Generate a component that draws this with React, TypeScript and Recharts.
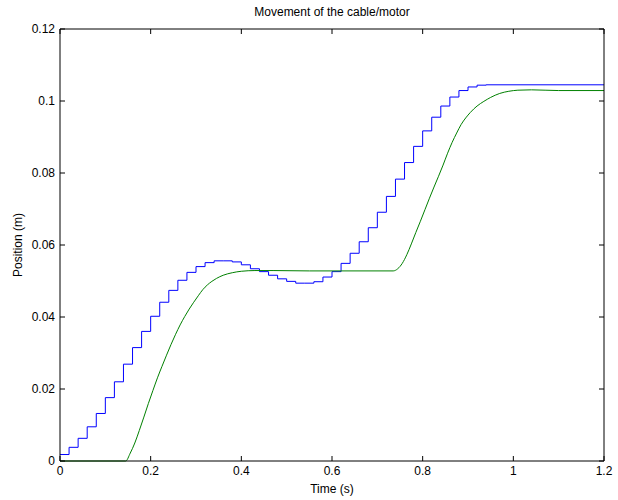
import React from 'react';
import { LineChart, Line, XAxis, YAxis, Label } from 'recharts';

// motor position, sampled every 0.02 s (drawn as stairs)
const motorTimes = [
  0, 0.02, 0.04, 0.06, 0.08, 0.1, 0.12, 0.14, 0.16, 0.18, 0.2, 0.22, 0.24, 0.26, 0.28, 0.3,
  0.32, 0.34, 0.36, 0.38, 0.4, 0.42, 0.44, 0.46, 0.48, 0.5, 0.52, 0.54, 0.56, 0.58, 0.6, 0.62,
  0.64, 0.66, 0.68, 0.7, 0.72, 0.74, 0.76, 0.78, 0.8, 0.82, 0.84, 0.86, 0.88, 0.9, 0.92, 0.94, 1.2,
];
const motorPos = [
  0.0018, 0.0038, 0.0063, 0.0095, 0.0132, 0.0176, 0.022, 0.0269, 0.0315, 0.036, 0.0402, 0.0441,
  0.0474, 0.0502, 0.0524, 0.054, 0.0551, 0.0556, 0.0556, 0.0553, 0.0545, 0.0534, 0.0526, 0.0516,
  0.0506, 0.0499, 0.0494, 0.0494, 0.0498, 0.0511, 0.0526, 0.0549, 0.0577, 0.0609, 0.0648, 0.0691,
  0.0735, 0.0783, 0.0829, 0.0874, 0.0917, 0.0955, 0.0986, 0.1011, 0.1029, 0.1039, 0.1044, 0.1045,
  0.1045,
];

// cable position
const cableTimes = [
  0, 0.145, 0.155, 0.165, 0.175, 0.185, 0.195, 0.205, 0.215, 0.225, 0.235, 0.245, 0.255, 0.265,
  0.275, 0.285, 0.295, 0.305, 0.315, 0.325, 0.335, 0.345, 0.36, 0.38, 0.4, 0.43, 0.47, 0.55, 0.735,
  0.745, 0.755, 0.765, 0.775, 0.785, 0.795, 0.805, 0.815, 0.825, 0.835, 0.845, 0.855, 0.865, 0.875,
  0.885, 0.895, 0.905, 0.92, 0.935, 0.95, 0.97, 0.99, 1.01, 1.04, 1.07, 1.1, 1.2,
];
const cablePos = [
  0, 0, 0.0022, 0.005, 0.0085, 0.0122, 0.016, 0.0196, 0.0231, 0.0263, 0.0294, 0.0324, 0.0352,
  0.0378, 0.0401, 0.0422, 0.0441, 0.0459, 0.0476, 0.0489, 0.0499, 0.0507, 0.0516, 0.0523, 0.0527,
  0.0529, 0.0529, 0.0528, 0.0528, 0.0534, 0.0549, 0.0573, 0.0603, 0.0635, 0.0666, 0.0698, 0.073,
  0.0761, 0.0791, 0.0822, 0.0855, 0.0885, 0.0911, 0.0935, 0.0953, 0.0968, 0.0986, 0.0999, 0.101,
  0.1021, 0.1027, 0.103, 0.1031, 0.103, 0.1029, 0.1029,
];

const xTicks = [0, 0.2, 0.4, 0.6, 0.8, 1, 1.2];
const yTicks = [0, 0.02, 0.04, 0.06, 0.08, 0.1, 0.12];

const motorData = motorTimes.map((t, i) => ({ t, v: motorPos[i] }));
const cableData = cableTimes.map((t, i) => ({ t, v: cablePos[i] }));

const FONT = '"Liberation Sans", Arial, sans-serif';
const font = { fontFamily: FONT, fontSize: 12, fill: '#000' };
const TICK = 5;

// matlab-style ticks point into the plot box; with tickSize 0 the
// tick renderer gets the point on the axis line itself
const BottomTick = ({ x, y, payload }: any) => (
  <g>
    <line x1={x} x2={x} y1={y} y2={y - TICK} stroke="#000" />
    <text x={x} y={y + 14} textAnchor="middle" fontFamily={FONT} fontSize={12} fill="#000">
      {payload.value}
    </text>
  </g>
);
const LeftTick = ({ x, y, payload }: any) => (
  <g>
    <line x1={x} x2={x + TICK} y1={y} y2={y} stroke="#000" />
    <text x={x - 5} y={y + 4} textAnchor="end" fontFamily={FONT} fontSize={12} fill="#000">
      {payload.value}
    </text>
  </g>
);
const TopTick = ({ x, y }: any) => <line x1={x} x2={x} y1={y} y2={y + TICK} stroke="#000" />;
const RightTick = ({ x, y }: any) => <line x1={x} x2={x - TICK} y1={y} y2={y} stroke="#000" />;

export default function App() {
  return (
    <div style={{ position: 'absolute', left: 0, top: 0, background: '#fff' }}>
      <LineChart width={618} height={500} margin={{ top: 28, right: 13, left: 0, bottom: 0 }}>
        <XAxis
          xAxisId="b"
          dataKey="t"
          type="number"
          domain={[0, 1.2]}
          ticks={xTicks}
          interval={0}
          height={39}
          tickSize={0}
          tickMargin={0}
          tickLine={false}
          tick={BottomTick}
          stroke="#000"
          allowDataOverflow
        >
          <Label value="Time (s)" position="center" dy={8} style={font} />
        </XAxis>
        <XAxis
          xAxisId="t"
          orientation="top"
          dataKey="t"
          type="number"
          domain={[0, 1.2]}
          ticks={xTicks}
          interval={0}
          height={1}
          tickSize={0}
          tickMargin={0}
          tickLine={false}
          tick={TopTick}
          stroke="#000"
          allowDataOverflow
        >
          <Label value="Movement of the cable/motor" position="top" offset={12} style={font} />
        </XAxis>
        <YAxis
          yAxisId="l"
          type="number"
          domain={[0, 0.12]}
          ticks={yTicks}
          interval={0}
          width={60}
          tickSize={0}
          tickMargin={0}
          tickLine={false}
          tick={LeftTick}
          stroke="#000"
        >
          <Label value="Position (m)" angle={-90} position="center" dx={-12} style={font} />
        </YAxis>
        <YAxis
          yAxisId="r"
          orientation="right"
          type="number"
          domain={[0, 0.12]}
          ticks={yTicks}
          interval={0}
          width={1}
          tickSize={0}
          tickMargin={0}
          tickLine={false}
          tick={RightTick}
          stroke="#000"
        />
        {/* invisible copy so the top/right box axes get a domain and ticks */}
        <Line
          xAxisId="t"
          yAxisId="r"
          data={cableData}
          dataKey="v"
          stroke="none"
          dot={false}
          activeDot={false}
          legendType="none"
          isAnimationActive={false}
        />
        <Line
          xAxisId="b"
          yAxisId="l"
          data={motorData}
          dataKey="v"
          type="stepAfter"
          stroke="#0000ff"
          strokeWidth={1}
          dot={false}
          isAnimationActive={false}
        />
        <Line
          xAxisId="b"
          yAxisId="l"
          data={cableData}
          dataKey="v"
          type="monotone"
          stroke="#008000"
          strokeWidth={1}
          dot={false}
          isAnimationActive={false}
        />
      </LineChart>
    </div>
  );
}
